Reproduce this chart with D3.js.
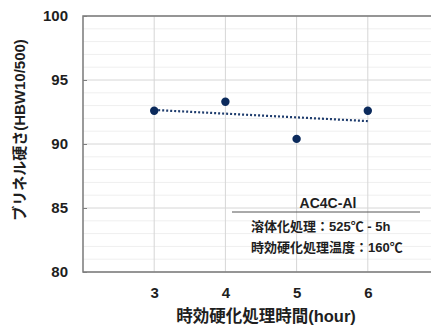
<!DOCTYPE html>
<html>
<head>
<meta charset="utf-8">
<script src="https://cdn.jsdelivr.net/npm/d3@7"></script>
<style>
  body{margin:0;background:#fff;}
  svg text{font-family:"Liberation Sans","Noto Sans CJK JP",sans-serif;font-weight:bold;fill:#1e1e1e;}
</style>
</head>
<body>
<svg width="431" height="325"></svg>
<script>
const hours=[3,4,5,6];
const hardness=[92.6,93.3,90.4,92.6];
const yTicks=[80,85,90,95,100];
const xTicks=[3,4,5,6];
const noteTitle="AC4C-Al";
const noteLines=["溶体化処理：525℃ - 5h","時効硬化処理温度：160℃"];

const svgWidth=431, svgHeight=325;
const margin={top:16,left:83,bottom:53,right:-8};
const width=svgWidth-(margin.left+margin.right);
const height=svgHeight-(margin.top+margin.bottom);

const svg=d3.select("svg");
const g=svg.append("g").attr("transform",`translate(${margin.left},${margin.top})`);

const xScale=d3.scaleLinear().domain([2,7]).range([0,width]);
const yScale=d3.scaleLinear().domain([80,100]).range([height,0]);

// minor grid
g.append("g").selectAll("line")
  .data(d3.range(80,101,1))
  .enter().append("line")
  .attr("x1",0).attr("x2",width)
  .attr("y1",d=>yScale(d)).attr("y2",d=>yScale(d))
  .style("stroke",d=>d%5===0?"#d6d6d6":"#efefef")
  .style("stroke-width",1);

g.append("g").selectAll("line")
  .data(xTicks)
  .enter().append("line")
  .attr("x1",d=>xScale(d)).attr("x2",d=>xScale(d))
  .attr("y1",0).attr("y2",height)
  .style("stroke","#d6d6d6")
  .style("stroke-width",1);

// frame
g.append("path")
  .attr("d",`M${width},0H0V${height}H${width}`)
  .style("fill","none").style("stroke","#7a7a7a").style("stroke-width",1.5);

// y ticks
const yAxis=d3.axisLeft(yScale).tickValues(yTicks).tickSize(-4).tickPadding(15);
g.append("g").attr("class","yAxis").call(yAxis)
  .call(a=>a.select(".domain").remove())
  .call(a=>a.selectAll("line").style("stroke","#7f7f7f"))
  .selectAll("text").style("font-size","15px");

const xAxis=d3.axisBottom(xScale).tickValues(xTicks).tickFormat(d3.format("d")).tickSize(0).tickPadding(15);
g.append("g").attr("class","xAxis").attr("transform",`translate(0,${height})`).call(xAxis)
  .call(a=>a.select(".domain").remove())
  .selectAll("text").style("font-size","15px");

// trend line (least squares)
const mx=d3.mean(hours), my=d3.mean(hardness);
const slope=d3.sum(hours,(x,i)=>(x-mx)*(hardness[i]-my))/d3.sum(hours,x=>(x-mx)*(x-mx));
const trend=[hours[0],hours[hours.length-1]].map(x=>[x,my+slope*(x-mx)]);
g.append("line")
  .attr("x1",xScale(trend[0][0])).attr("y1",yScale(trend[0][1]))
  .attr("x2",xScale(trend[1][0])).attr("y2",yScale(trend[1][1]))
  .style("stroke","#1f3d6e").style("stroke-width",2.2)
  .style("stroke-dasharray","2,2");

g.append("g").selectAll("circle")
  .data(hours)
  .enter().append("circle")
  .attr("cx",d=>xScale(d))
  .attr("cy",(d,i)=>yScale(hardness[i]))
  .attr("r",4.2)
  .style("fill","#0b2a5c");

// annotation
svg.append("text").text(noteTitle)
  .attr("x",328).attr("y",208).attr("text-anchor","middle")
  .style("font-size","14px");
svg.append("line").attr("x1",232).attr("x2",420).attr("y1",212).attr("y2",212)
  .style("stroke","#555").style("stroke-width",1);
svg.selectAll(".note").data(noteLines).enter().append("text")
  .attr("class","note")
  .attr("x",251).attr("y",(d,i)=>231+i*21)
  .text(d=>d)
  .style("font-size","13px");

// axis titles
svg.append("text").text("時効硬化処理時間(hour)")
  .attr("x",266).attr("y",322).attr("text-anchor","middle")
  .style("font-size","16.5px");
svg.append("text").text("ブリネル硬さ(HBW10/500)")
  .attr("transform","translate(25,130) rotate(-90)")
  .attr("text-anchor","middle")
  .style("font-size","15px");
</script>
</body>
</html>
